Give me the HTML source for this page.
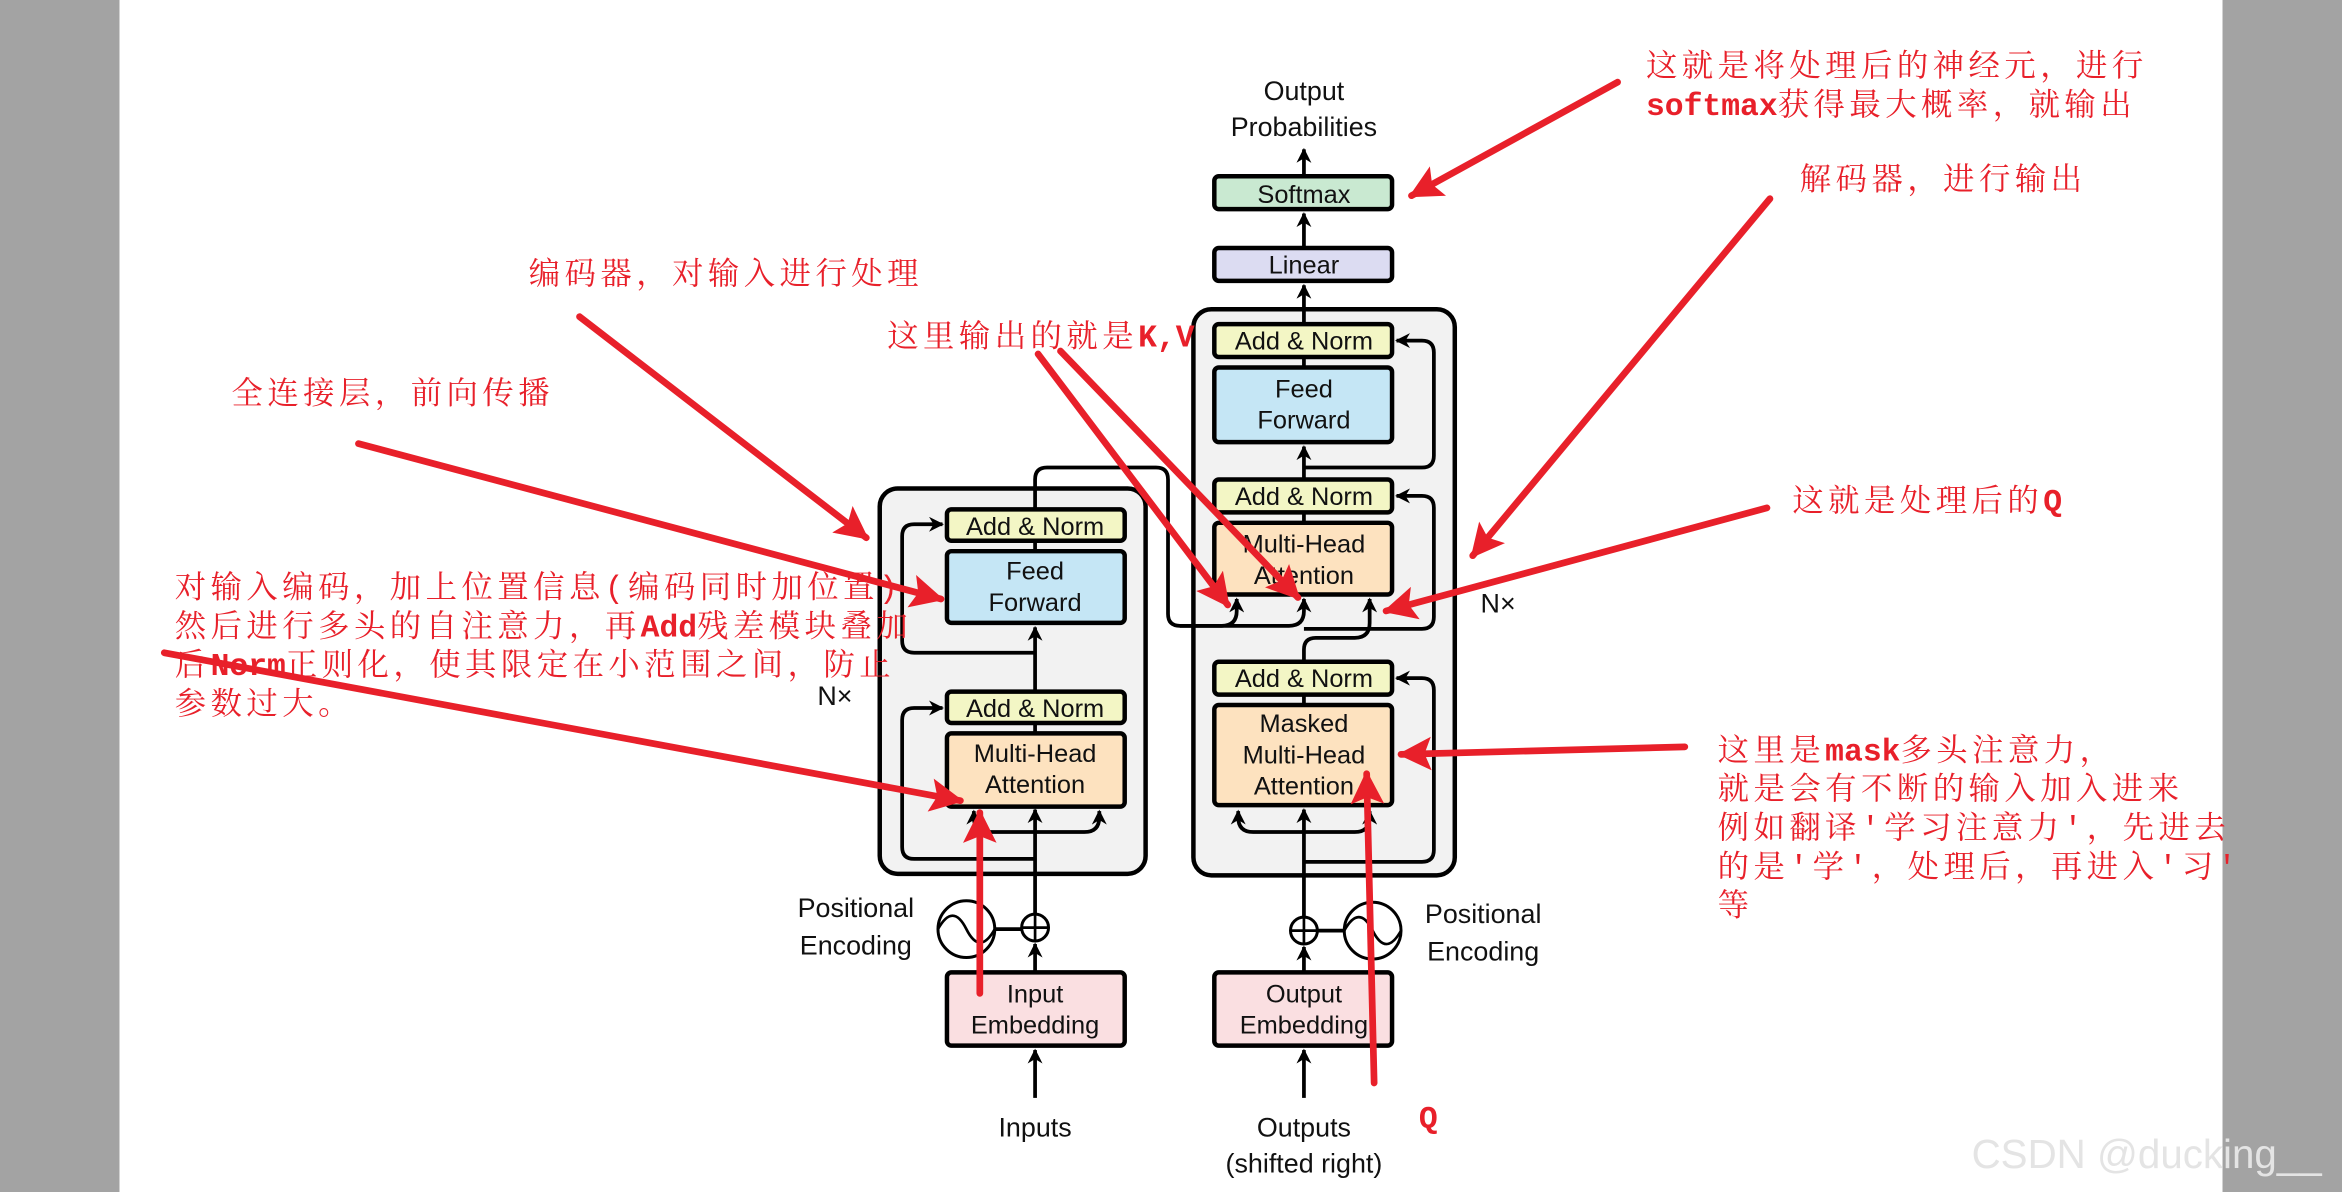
<!DOCTYPE html>
<html><head><meta charset="utf-8"><style>
html,body{margin:0;padding:0;background:#fff;}
svg{display:block}
.l{font-family:"Liberation Sans",sans-serif;font-size:17px;fill:#111;text-anchor:middle}
.r{font-family:"Liberation Mono","Noto Serif CJK SC",serif;font-size:21px;fill:#e8202a;letter-spacing:3px}
.m{letter-spacing:0;font-weight:bold}
</style></head><body>
<svg width="2342" height="1192" viewBox="0 0 1568 798" preserveAspectRatio="none" xmlns="http://www.w3.org/2000/svg">
<defs>
<marker id="ak" viewBox="0 0 10 10" refX="9" refY="5" markerWidth="4" markerHeight="4" orient="auto-start-reverse"><path d="M0,0 L10,5 L0,10 L3,5z" fill="#000"/></marker>
<marker id="ar" viewBox="0 0 10 10" refX="9" refY="5" markerWidth="5" markerHeight="5" orient="auto"><path d="M0,0 L10,5 L0,10 L2,5z" fill="#e8202a"/></marker>
</defs>
<rect x="0" y="0" width="80" height="798" fill="#a3a3a3"/>
<rect x="1488" y="0" width="80" height="798" fill="#a3a3a3"/>

<rect x="589" y="327" width="178" height="258" rx="12" fill="#f2f2f2" stroke="#000" stroke-width="3"/>
<rect x="799" y="207" width="175" height="379" rx="12" fill="#f2f2f2" stroke="#000" stroke-width="3"/>

<g fill="none" stroke="#000" stroke-width="2.5">
<path d="M693 735 V703" marker-end="url(#ak)"/>
<path d="M693 651 V632" marker-end="url(#ak)"/>
<path d="M693 612 V542" marker-end="url(#ak)"/>
<path d="M693 575 H612 q-8 0 -8 -8 V482 q0 -8 8 -8 H631" marker-end="url(#ak)"/>
<path d="M693 557 H662 q-10 0 -10 -10 V543" marker-end="url(#ak)"/>
<path d="M693 557 H726 q10 0 10 -10 V543" marker-end="url(#ak)"/>
<path d="M693 491 V484"/>
<path d="M693 463 V420" marker-end="url(#ak)"/>
<path d="M693 437 H612 q-8 0 -8 -8 V359 q0 -8 8 -8 H631" marker-end="url(#ak)"/>
<path d="M693 369 V362"/>
<path d="M693 341 V321 q0 -8 8 -8 H774 q8 0 8 8 V411 q0 8 8 8 H818 q10 0 10 -10 V401" marker-end="url(#ak)"/>
<path d="M790 419 H863 q10 0 10 -10 V401" marker-end="url(#ak)"/>
<path d="M666 622 H684"/>
<path d="M873 735 V703" marker-end="url(#ak)"/>
<path d="M873 651 V634" marker-end="url(#ak)"/>
<path d="M873 614 V542" marker-end="url(#ak)"/>
<path d="M873 577 H952 q8 0 8 -8 V462 q0 -8 -8 -8 H935" marker-end="url(#ak)"/>
<path d="M873 557 H839 q-10 0 -10 -10 V543" marker-end="url(#ak)"/>
<path d="M873 557 H907 q10 0 10 -10 V543" marker-end="url(#ak)"/>
<path d="M873 472 V465"/>
<path d="M873 443 V435 q0 -8 8 -8 H907 q10 0 10 -10 V401" marker-end="url(#ak)"/>
<path d="M873 421 H952 q8 0 8 -8 V340 q0 -8 -8 -8 H935" marker-end="url(#ak)"/>
<path d="M873 350 V343"/>
<path d="M873 321 V299" marker-end="url(#ak)"/>
<path d="M873 313 H952 q8 0 8 -8 V236 q0 -8 -8 -8 H935" marker-end="url(#ak)"/>
<path d="M873 246 V239"/>
<path d="M873 217 V191" marker-end="url(#ak)"/>
<path d="M873 166 V143" marker-end="url(#ak)"/>
<path d="M873 118 V100" marker-end="url(#ak)"/>
<path d="M882 623 H900"/>
</g>

<g fill="#fff" stroke="#000" stroke-width="2">
<circle cx="693" cy="621" r="9"/><circle cx="647" cy="622" r="19"/>
<circle cx="873" cy="623" r="9"/><circle cx="919" cy="623" r="19"/>
</g>
<g fill="none" stroke="#000" stroke-width="1.8">
<path d="M684 621 H702 M693 612 V630 M864 623 H882 M873 614 V632"/>
<path d="M628 622 q10 -18 19 0 q9 18 19 0"/>
<path d="M900 623 q10 -18 19 0 q9 18 19 0"/>
</g>

<g stroke="#000" stroke-width="3">
<rect x="634" y="341" width="119" height="21" rx="3" fill="#f3f6c5"/>
<rect x="634" y="369" width="119" height="48" rx="3" fill="#c5e6f5"/>
<rect x="634" y="463" width="119" height="21" rx="3" fill="#f3f6c5"/>
<rect x="634" y="491" width="119" height="49" rx="3" fill="#fde2bf"/>
<rect x="634" y="651" width="119" height="49" rx="3" fill="#fadfe1"/>
<rect x="813" y="118" width="119" height="22" rx="3" fill="#c9e9d1"/>
<rect x="813" y="166" width="119" height="22" rx="3" fill="#dcdcf2"/>
<rect x="813" y="217" width="119" height="22" rx="3" fill="#f3f6c5"/>
<rect x="813" y="246" width="119" height="50" rx="3" fill="#c5e6f5"/>
<rect x="813" y="321" width="119" height="22" rx="3" fill="#f3f6c5"/>
<rect x="813" y="350" width="119" height="48" rx="3" fill="#fde2bf"/>
<rect x="813" y="443" width="119" height="22" rx="3" fill="#f3f6c5"/>
<rect x="813" y="472" width="119" height="67" rx="3" fill="#fde2bf"/>
<rect x="813" y="651" width="119" height="49" rx="3" fill="#fadfe1"/>
</g>

<g class="l">
<text x="693" y="358">Add &amp; Norm</text>
<text x="693" y="388">Feed</text><text x="693" y="409">Forward</text>
<text x="693" y="480">Add &amp; Norm</text>
<text x="693" y="510">Multi-Head</text><text x="693" y="531">Attention</text>
<text x="693" y="671">Input</text><text x="693" y="692">Embedding</text>
<text x="693" y="761" font-size="18">Inputs</text>
<text x="559" y="472" font-size="18">N×</text>
<text x="573" y="614" font-size="18">Positional</text><text x="573" y="639" font-size="18">Encoding</text>
<text x="873" y="67" font-size="18">Output</text><text x="873" y="91" font-size="18">Probabilities</text>
<text x="873" y="136">Softmax</text>
<text x="873" y="183">Linear</text>
<text x="873" y="234">Add &amp; Norm</text>
<text x="873" y="266">Feed</text><text x="873" y="287">Forward</text>
<text x="873" y="338">Add &amp; Norm</text>
<text x="873" y="370">Multi-Head</text><text x="873" y="391">Attention</text>
<text x="873" y="460">Add &amp; Norm</text>
<text x="873" y="490">Masked</text><text x="873" y="511">Multi-Head</text><text x="873" y="532">Attention</text>
<text x="873" y="671">Output</text><text x="873" y="692">Embedding</text>
<text x="873" y="761" font-size="18">Outputs</text><text x="873" y="785" font-size="18">(shifted right)</text>
<text x="1003" y="410" font-size="18">N×</text>
<text x="993" y="618" font-size="18">Positional</text><text x="993" y="643" font-size="18">Encoding</text>
</g>

<g stroke="#e8202a" stroke-width="4.5" fill="none" stroke-linecap="round">
<path d="M1083 55 L945 131" marker-end="url(#ar)"/>
<path d="M1185 133 L986 372" marker-end="url(#ar)"/>
<path d="M388 212 L580 360" marker-end="url(#ar)"/>
<path d="M240 297 L630 401" marker-end="url(#ar)"/>
<path d="M110 437 L643 536" marker-end="url(#ar)"/>
<path d="M656 665 L656 544" marker-end="url(#ar)"/>
<path d="M695 237 L822 405" marker-end="url(#ar)"/>
<path d="M710 235 L869 400" marker-end="url(#ar)"/>
<path d="M1183 340 L928 409" marker-end="url(#ar)"/>
<path d="M1128 500 L938 505" marker-end="url(#ar)"/>
<path d="M920 725 L915 518" marker-end="url(#ar)"/>
</g>

<g class="r">
<text x="1102" y="51">这就是将处理后的神经元，进行</text>
<text x="1102" y="77"><tspan class="m">softmax</tspan>获得最大概率，就输出</text>
<text x="1205" y="127">解码器，进行输出</text>
<text x="354" y="190">编码器，对输入进行处理</text>
<text x="594" y="232">这里输出的就是<tspan class="m">K,V</tspan></text>
<text x="155" y="270">全连接层，前向传播</text>
<text x="117" y="400">对输入编码，加上位置信息(编码同时加位置)</text>
<text x="117" y="426">然后进行多头的自注意力，再<tspan class="m">Add</tspan>残差模块叠加</text>
<text x="117" y="452">后<tspan class="m">Norm</tspan>正则化，使其限定在小范围之间，防止</text>
<text x="117" y="478">参数过大。</text>
<text x="1200" y="342">这就是处理后的<tspan class="m">Q</tspan></text>
<text x="1150" y="509">这里是<tspan class="m">mask</tspan>多头注意力，</text>
<text x="1150" y="535">就是会有不断的输入加入进来</text>
<text x="1150" y="561">例如翻译'学习注意力'，先进去</text>
<text x="1150" y="587">的是'学'，处理后，再进入'习'</text>
<text x="1150" y="613">等</text>
<text x="950" y="755" font-weight="bold">Q</text>
</g>
<text x="1320" y="782" font-family="Liberation Sans,sans-serif" font-size="27" fill="#e4e4e4">CSDN @ducking__</text>
</svg>
</body></html>
